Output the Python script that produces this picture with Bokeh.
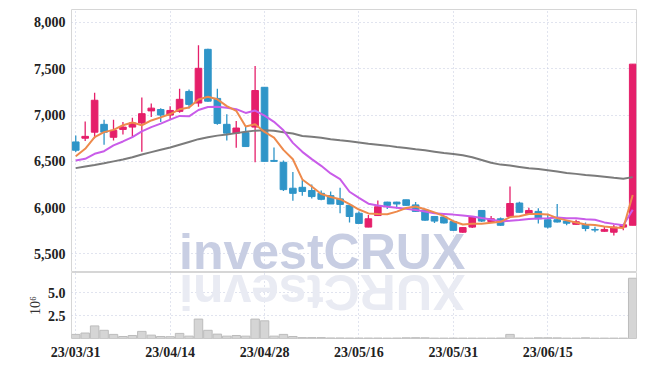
import numpy as np
from bokeh.plotting import figure
from bokeh.layouts import column
from bokeh.models import ColumnDataSource, FixedTicker, NumeralTickFormatter, Range1d
from bokeh.core.properties import value
from bokeh.embed import file_html
from bokeh.resources import INLINE

dates = ["23/03/31", "23/04/03", "23/04/04", "23/04/05", "23/04/06", "23/04/07", "23/04/10", "23/04/11",
         "23/04/12", "23/04/13", "23/04/14", "23/04/17", "23/04/18", "23/04/19", "23/04/20", "23/04/21",
         "23/04/24", "23/04/25", "23/04/26", "23/04/27", "23/04/28", "23/05/02", "23/05/03", "23/05/04",
         "23/05/08", "23/05/09", "23/05/10", "23/05/11", "23/05/12", "23/05/15", "23/05/16", "23/05/17",
         "23/05/18", "23/05/19", "23/05/22", "23/05/23", "23/05/24", "23/05/25", "23/05/26", "23/05/30",
         "23/05/31", "23/06/01", "23/06/02", "23/06/05", "23/06/07", "23/06/08", "23/06/09", "23/06/12",
         "23/06/13", "23/06/14", "23/06/15", "23/06/16", "23/06/19", "23/06/20", "23/06/21", "23/06/22",
         "23/06/23", "23/06/26", "23/06/27", "23/06/28"]

opens = [6710, 6750, 6815, 6900, 6760, 6845, 6870, 6915, 7045, 7060,
         7000, 7040, 7255, 7130, 7710, 7180, 6900, 6805, 6810, 6870,
         7300, 6510, 6490, 6210, 6220, 6185, 6155, 6130, 6095, 6025,
         5940, 5790, 5915, 6060, 6060, 6085, 6030, 5975, 5905, 5900,
         5850, 5735, 5790, 5970, 5850, 5880, 5905, 6050, 5935, 5960,
         5870, 5870, 5855, 5820, 5818, 5765, 5745, 5735, 5790, 5810]
highs = [6780, 6930, 7240, 6950, 6950, 6925, 6970, 7190, 7125, 7075,
         7095, 7285, 7275, 7755, 7715, 7285, 7010, 6935, 6870, 7530,
         7300, 6650, 6510, 6385, 6295, 6250, 6185, 6175, 6215, 6025,
         5960, 5920, 6077, 6065, 6065, 6085, 6060, 5975, 5905, 5905,
         5850, 5790, 5905, 5970, 5910, 5895, 6230, 6065, 6000, 5995,
         5935, 6040, 5858, 5870, 5840, 5795, 5795, 5815, 5820, 7550]
lows = [6600, 6720, 6750, 6680, 6725, 6790, 6755, 6605, 6980, 6925,
        6955, 7025, 7070, 7090, 7145, 6895, 6725, 6647, 6660, 6490,
        6500, 6495, 6180, 6075, 6130, 6100, 6080, 6040, 5940, 5840,
        5830, 5788, 5910, 5985, 5990, 6020, 5955, 5860, 5835, 5830,
        5750, 5730, 5780, 5845, 5848, 5805, 5900, 5945, 5930, 5830,
        5775, 5840, 5810, 5815, 5745, 5735, 5740, 5700, 5755, 5810]
closes = [6620, 6770, 7160, 6815, 6835, 6870, 6915, 7015, 7075, 7000,
          7050, 7170, 7115, 7505, 7150, 6910, 6805, 6860, 6660, 7265,
          6500, 6500, 6195, 6155, 6175, 6120, 6090, 6040, 6035, 5905,
          5830, 5880, 6010, 6025, 6040, 6025, 5960, 5865, 5855, 5835,
          5755, 5785, 5905, 5855, 5880, 5810, 6045, 5950, 5970, 5880,
          5790, 5845, 5832, 5848, 5775, 5758, 5765, 5790, 5815, 7550]
volume_m = [0.45, 0.60, 1.38, 0.90, 0.45, 0.22, 0.33, 0.78, 0.37, 0.22,
            0.20, 0.56, 0.26, 2.13, 0.90, 0.48, 0.26, 0.33, 0.26, 2.13,
            1.94, 0.26, 0.45, 0.22, 0.10, 0.10, 0.10, 0.06, 0.06, 0.05,
            0.05, 0.05, 0.05, 0.04, 0.05, 0.08, 0.09, 0.08, 0.04, 0.04,
            0.04, 0.04, 0.04, 0.04, 0.04, 0.05, 0.45, 0.05, 0.04, 0.08,
            0.08, 0.07, 0.04, 0.04, 0.08, 0.04, 0.04, 0.04, 0.04, 6.61]
ma5 = [6556, 6636, 6762, 6816, 6840, 6890, 6919, 6890, 6942, 6975,
       7011, 7062, 7082, 7168, 7198, 7170, 7097, 7046, 6877, 6900,
       6818, 6757, 6624, 6523, 6305, 6229, 6147, 6116, 6092, 6038,
       5980, 5938, 5932, 5930, 5957, 5996, 6012, 5983, 5949, 5908,
       5854, 5819, 5827, 5827, 5836, 5847, 5899, 5908, 5931, 5931,
       5927, 5887, 5863, 5839, 5818, 5812, 5796, 5787, 5781, 6136]
ma10 = [6510, 6528, 6582, 6610, 6672, 6715, 6762, 6824, 6870, 6908,
        6951, 6991, 6986, 7055, 7087, 7091, 7080, 7064, 7023, 7049,
        6994, 6927, 6835, 6700, 6603, 6524, 6452, 6370, 6308, 6172,
        6105, 6043, 6024, 6011, 5998, 5988, 5975, 5958, 5940, 5933,
        5925, 5916, 5905, 5888, 5872, 5851, 5859, 5868, 5879, 5884,
        5887, 5893, 5886, 5885, 5875, 5869, 5841, 5825, 5810, 5977]
ma60 = [6427, 6445, 6462, 6480, 6500, 6520, 6545, 6575, 6600, 6625,
        6650, 6680, 6710, 6740, 6760, 6778, 6790, 6805, 6820, 6832,
        6835, 6830, 6815, 6800, 6775, 6765, 6755, 6740, 6728, 6718,
        6705, 6690, 6680, 6670, 6655, 6645, 6632, 6620, 6605, 6590,
        6580, 6565, 6545, 6515, 6485, 6465, 6455, 6440, 6425, 6418,
        6405, 6390, 6375, 6365, 6352, 6345, 6335, 6322, 6312, 6330]
price_ticks = [5500, 6000, 6500, 7000, 7500, 8000]
date_tick_idx = [0, 10, 20, 30, 40, 50]
vol_ticks = [2.5, 5.0]
watermark = "investCRUX"

UP = "#e51f6a"
DOWN = "#2f95c8"
FONT = "Liberation Sans Narrow"
GRID = "#c3c9de"

idx = list(range(len(closes)))
colors = [UP if c >= o else DOWN for o, c in zip(opens, closes)]
src = ColumnDataSource(dict(
    x=idx, o=opens, h=highs, l=lows, c=closes,
    top=[max(o, c) for o, c in zip(opens, closes)],
    bottom=[min(o, c) for o, c in zip(opens, closes)],
    color=colors, vol=volume_m, ma5=ma5, ma10=ma10, ma60=ma60))

xr = Range1d(-0.45, 59.4)

p = figure(width=638, height=272, x_range=xr, y_range=Range1d(5300, 8140),
           output_backend="svg", toolbar_location=None,
           min_border_left=71, min_border_right=2, min_border_top=9, min_border_bottom=0)
p.xaxis.visible = False
p.xgrid.ticker = FixedTicker(ticks=date_tick_idx)
p.yaxis.ticker = FixedTicker(ticks=price_ticks)
p.ygrid.ticker = FixedTicker(ticks=price_ticks)
p.yaxis.formatter = NumeralTickFormatter(format="0,0")
for ax in [p.yaxis[0]]:
    ax.axis_line_color = None
    ax.major_tick_line_color = None
    ax.minor_tick_line_color = None
    ax.major_tick_out = 0
    ax.major_label_standoff = 6
    ax.major_label_text_font = FONT
    ax.major_label_text_font_size = "14px"
    ax.major_label_text_font_style = "bold"
    ax.major_label_text_color = "#222222"
for g in [p.xgrid[0], p.ygrid[0]]:
    g.grid_line_color = GRID
    g.grid_line_dash = "1 3"
    g.grid_line_width = 1
p.outline_line_color = "#d6d6d6"
p.background_fill_color = "white"

p.text(x=[26.1], y=[5825], text=[watermark], text_font=value("Liberation Sans"), text_font_style="bold",
       text_font_size="50px", text_color="#c8cee3", text_align="center", text_baseline="top")

p.segment(x0="x", y0="h", x1="x", y1="l", color="color", line_width=1.3, source=src)
p.vbar(x="x", top="top", bottom="bottom", width=0.7, fill_color="color", line_color="color",
       line_width=1, source=src)
p.line("x", "ma60", source=src, line_color="#7b7b7b", line_width=2)
p.line("x", "ma10", source=src, line_color="#c95ce9", line_width=2)
p.line("x", "ma5", source=src, line_color="#ee8a4c", line_width=2)

v = figure(width=638, height=90, x_range=xr, y_range=Range1d(0, 7.24),
           output_backend="svg", toolbar_location=None,
           min_border_left=71, min_border_right=2, min_border_top=0, min_border_bottom=0)
v.xaxis.ticker = FixedTicker(ticks=date_tick_idx)
v.xgrid.ticker = FixedTicker(ticks=date_tick_idx)
v.xaxis.major_label_overrides = {i: dates[i] for i in date_tick_idx}
v.yaxis.ticker = FixedTicker(ticks=vol_ticks)
v.ygrid.ticker = FixedTicker(ticks=vol_ticks)
v.yaxis.formatter = NumeralTickFormatter(format="0.0")
v.yaxis.axis_label = "10⁶"
v.yaxis.axis_label_text_font = FONT
v.yaxis.axis_label_text_font_style = "normal"
v.yaxis.axis_label_text_font_size = "14px"
v.yaxis.axis_label_text_color = "#333333"
v.yaxis.axis_label_standoff = 2
for ax in [v.xaxis[0], v.yaxis[0]]:
    ax.axis_line_color = None
    ax.major_tick_line_color = None
    ax.minor_tick_line_color = None
    ax.major_tick_out = 0
    ax.major_tick_in = 0
    ax.major_label_standoff = 6
    ax.major_label_text_font = FONT
    ax.major_label_text_font_size = "14px"
    ax.major_label_text_font_style = "bold"
    ax.major_label_text_color = "#222222"
for g in [v.xgrid[0], v.ygrid[0]]:
    g.grid_line_color = GRID
    g.grid_line_dash = "1 3"
    g.grid_line_width = 1
v.outline_line_color = "#d6d6d6"

v.text(x=[26.1], y=[2.08], text=[watermark[::-1]], angle=np.pi, text_font=value("Liberation Sans"),
       text_font_style="bold", text_font_size="50px", text_color="#e9ebf3",
       text_align="center", text_baseline="top")
v.vbar(x="x", top="vol", bottom=0, width=0.9, fill_color="#d5d5d5", line_color="#bcbcbc",
       line_width=1, source=src)

layout = column(p, v, spacing=0)
open("out.html", "w").write(file_html(layout, INLINE))
